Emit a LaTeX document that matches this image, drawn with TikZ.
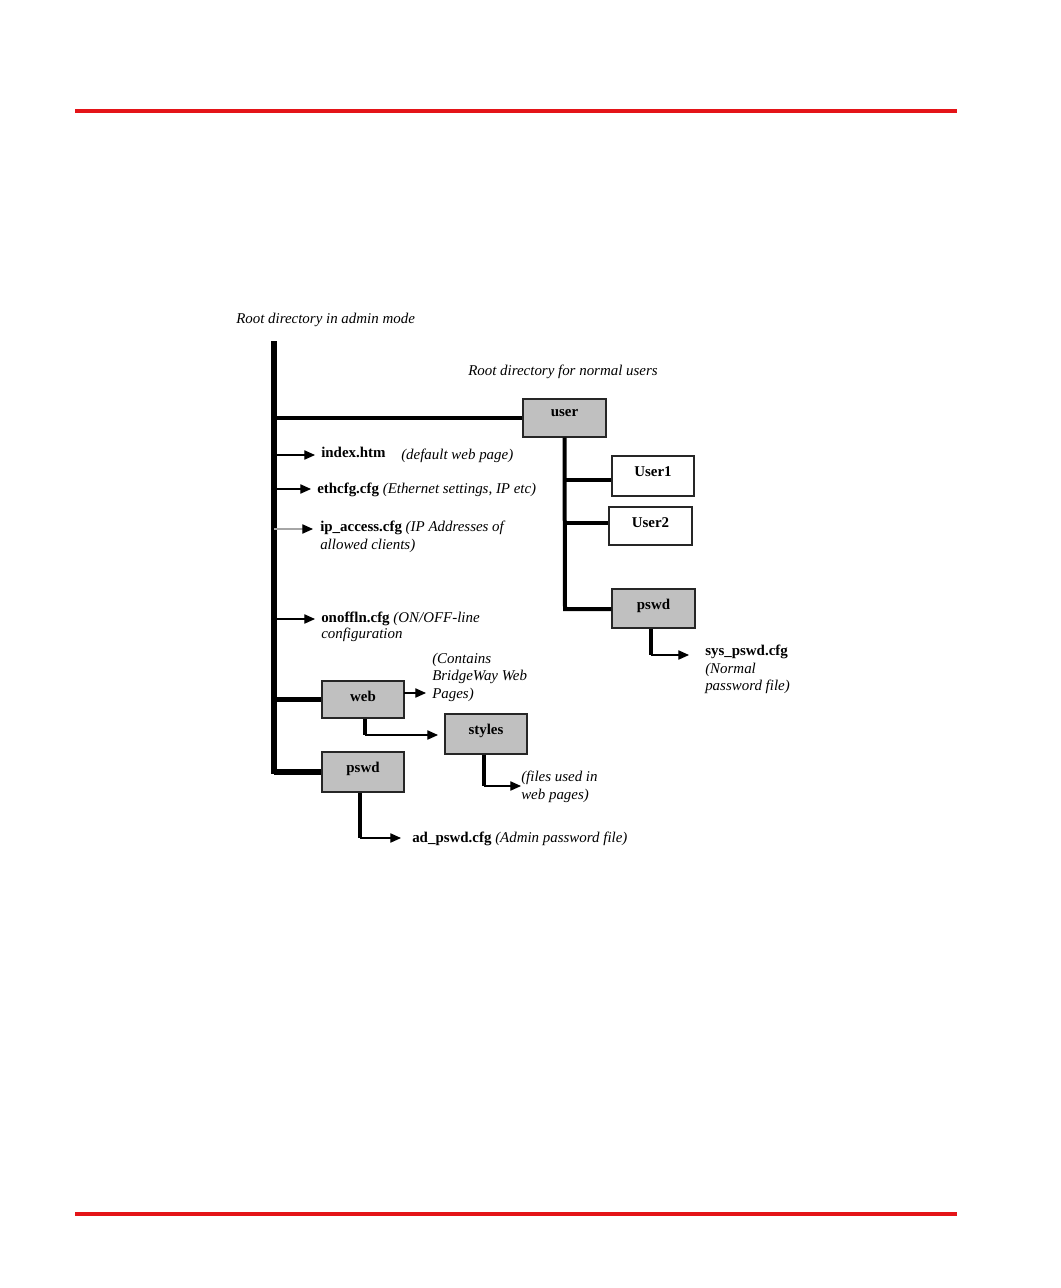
\documentclass[tikz,border=0pt]{standalone}
\usepackage{fontspec}
\setmainfont{Liberation Serif}
\usetikzlibrary{arrows.meta}
\definecolor{boxgray}{RGB}{192,192,192}
\definecolor{rulered}{RGB}{228,20,24}
\begin{document}
\begin{tikzpicture}[x=0.75pt,y=-0.75pt,
  every node/.style={font=\fontsize{11.2}{13}\selectfont},
  box/.style={draw=black!85,line width=0.95pt,minimum width=82*0.75pt,minimum height=39*0.75pt,inner sep=0pt},
  gbox/.style={box,fill=boxgray},
  wbox/.style={box,fill=white},
  blabel/.style={anchor=north,inner sep=0pt,yshift=-8.2pt,font=\fontsize{11.2}{13}\selectfont\bfseries},
  txt/.style={anchor=base west,inner sep=0pt},
  mainline/.style={line width=3.8pt},
  branch/.style={line width=3pt},
  arr/.style={line width=0.8pt,-{Triangle[length=8pt,width=7pt]}},
  rrule/.style={draw=rulered,line width=2.4pt}
]
\useasboundingbox (0,0) rectangle (1060,1288);
% page rules
\coordinate (r1a) at (75,111); \coordinate (r1b) at (957,111);
\coordinate (r2a) at (75,1214); \coordinate (r2b) at (957,1214);
\draw[rrule] (r1a) -- (r1b);
\draw[rrule] (r2a) -- (r2b);

% titles
\node[txt,font=\fontsize{11.2}{13}\selectfont\itshape] (rootadmin) at (236,323) {Root directory in admin mode};
\node[txt,font=\fontsize{11.2}{13}\selectfont\itshape] (rootuser) at (468,375) {Root directory for normal users};

% main line
\coordinate (mtop) at (274,341);
\coordinate (mbot) at (274,774);
\draw[mainline] (mtop) -- (mbot);

% boxes
\node[gbox,minimum width=83*0.75pt,minimum height=38*0.75pt] (user) at (564.5,418) {};
\node[blabel] at (user.north) {user};
\node[wbox,minimum height=40*0.75pt] (u1) at (653,476) {};
\node[blabel] at (u1.north) {User1};
\node[wbox,minimum width=83*0.75pt,minimum height=38*0.75pt] (u2) at (650.5,526) {};
\node[blabel] at (u2.north) {User2};
\node[gbox,minimum width=83*0.75pt] (upswd) at (653.5,608.5) {};
\node[blabel] at (upswd.north) {pswd};
\node[gbox,minimum height=37*0.75pt] (web) at (363,699.5) {};
\node[blabel] at (web.north) {web};
\node[gbox,minimum height=40*0.75pt] (styles) at (486,734) {};
\node[blabel] at (styles.north) {styles};
\node[gbox,minimum height=40*0.75pt] (apswd) at (363,772) {};
\node[blabel] at (apswd.north) {pswd};

% branches from main line to boxes
\draw[branch] (mtop |- user.west) -- (user.west);
\draw[mainline] (mtop |- web.west) -- (web.west);
\draw[mainline] (mtop |- apswd.west) -- (apswd.west);

% user subtree
\coordinate (uv) at (565,609);
\draw[branch] (user.south) -- (uv) -- (upswd.west |- uv);
\draw[branch] (uv |- 0,480) coordinate (uc1) -- (u1.west |- uc1);
\draw[branch] (uv |- 0,523) coordinate (uc2) -- (u2.west |- uc2);

% files on main line
\node[txt,font=\fontsize{11.2}{13}\selectfont\bfseries] (idx) at (321,457) {index.htm};
\node[txt,font=\fontsize{11.2}{13}\selectfont\itshape] (idxd) at (401,459) {(default web page)};
\coordinate (m1) at (274,455);
\draw[arr] (m1) -- (315,455);

\node[txt] (eth) at (317,493) {\textbf{ethcfg.cfg} \textit{(Ethernet settings, IP etc)}};
\coordinate (m2) at (274,489);
\draw[arr] (m2) -- (311,489);

\node[txt] (ipa) at (320,531) {\textbf{ip\_access.cfg} \textit{(IP Addresses of}};
\node[txt,font=\fontsize{11.2}{13}\selectfont\itshape] (ipb) at (320,549) {allowed clients)};
\coordinate (m3) at (274,529);
\draw[arr,draw=gray!70,-{Triangle[length=8pt,width=7pt,color=black]}] (m3) -- (313,529);

\node[txt] (onoff) at (321,622) {\textbf{onoffln.cfg} \textit{(ON/OFF-line}};
\node[txt,font=\fontsize{11.2}{13}\selectfont\itshape] (onoffb) at (321,638) {configuration};
\coordinate (m4) at (274,619);
\draw[arr] (m4) -- (315,619);

% web subtree
\node[txt,font=\fontsize{11.2}{13}\selectfont\itshape] (cont1) at (432,663) {(Contains};
\node[txt,font=\fontsize{11.2}{13}\selectfont\itshape] (cont2) at (432,680) {BridgeWay Web};
\node[txt,font=\fontsize{11.2}{13}\selectfont\itshape] (cont3) at (432,698) {Pages)};
\coordinate (we) at (404,693);
\draw[arr] (we) -- (426,693);

\coordinate (wb) at (365,735);
\draw[branch] (web.south -| wb) -- (wb);
\draw[arr] (wb) -- (438,735);

\coordinate (sb) at (484,786);
\draw[branch] (styles.south -| sb) -- (sb);
\draw[arr] (sb) -- (521,786);
\node[txt,font=\fontsize{11.2}{13}\selectfont\itshape] (f1) at (521,781) {(files used in};
\node[txt,font=\fontsize{11.2}{13}\selectfont\itshape] (f2) at (521,799) {web pages)};

% admin pswd subtree
\coordinate (ab) at (360,838);
\draw[branch] (apswd.south -| ab) -- (ab);
\draw[arr] (ab) -- (401,838);
\node[txt] (adp) at (412,842) {\textbf{ad\_pswd.cfg} \textit{(Admin password file)}};

% user pswd subtree
\coordinate (pb) at (651,655);
\draw[branch] (upswd.south -| pb) -- (pb);
\draw[arr] (pb) -- (689,655);
\node[txt,font=\fontsize{11.2}{13}\selectfont\bfseries] (sys1) at (705,655) {sys\_pswd.cfg};
\node[txt,font=\fontsize{11.2}{13}\selectfont\itshape] (sys2) at (705,673) {(Normal};
\node[txt,font=\fontsize{11.2}{13}\selectfont\itshape] (sys3) at (705,690) {password file)};
\end{tikzpicture}
\end{document}
